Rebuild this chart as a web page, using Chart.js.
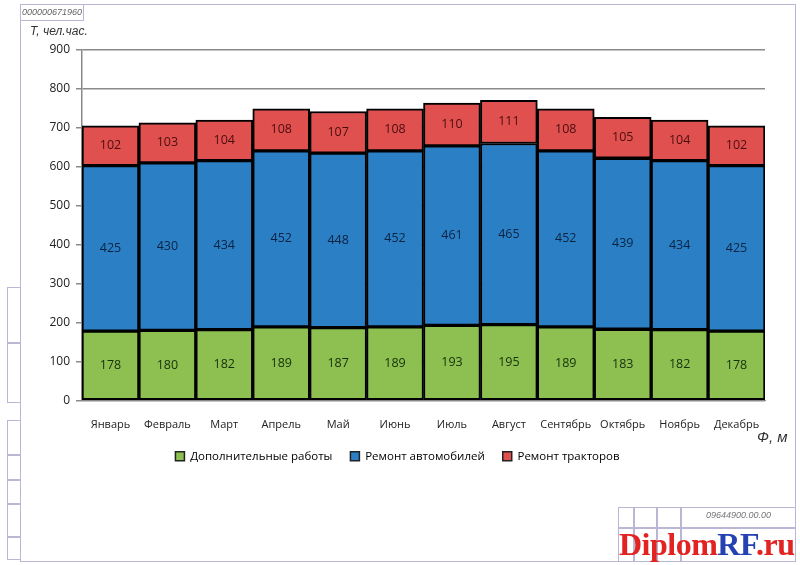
<!DOCTYPE html>
<html>
<head>
<meta charset="utf-8">
<script src="https://cdn.jsdelivr.net/npm/chart.js@4"></script>
<style>
  html, body { margin: 0; padding: 0; background: #fff; }
  #wrap { position: relative; width: 800px; height: 565px; overflow: hidden; }
  #chart { position: absolute; left: 0; top: 0; }
  .deco { position: absolute; pointer-events: none; font-family: "DejaVu Sans", sans-serif; }
  .frame { border: 1px solid #b9b6d6; }
  .lbl { font-style: italic; color: #333; font-family: "Liberation Sans", sans-serif; }
</style>
</head>
<body>
<div id="wrap">
  <canvas id="chart" width="800" height="565"></canvas>

  <!-- drawing frame -->
  <div class="deco frame" style="left:20px; top:4px; width:774px; height:556px;"></div>
  <div class="deco frame lbl" style="left:20px; top:4px; width:62px; height:15px; font-size:9px; line-height:15px; text-align:center; color:#666;">000000671960</div>
  <div class="deco lbl" style="left:30px; top:24px; font-size:12px;">Т, чел.час.</div>
  <div class="deco lbl" style="left:757px; top:428px; font-size:15px;">Ф, м</div>

  <!-- side stamps -->
  <div class="deco frame" style="left:7px; top:287px; width:12px; height:114px;"></div>
  <div class="deco frame" style="left:7px; top:342px; width:12px; height:0;"></div>
  <div class="deco frame" style="left:7px; top:420px; width:12px; height:138px;"></div>
  <div class="deco frame" style="left:7px; top:454px; width:12px; height:0;"></div>
  <div class="deco frame" style="left:7px; top:479px; width:12px; height:0;"></div>
  <div class="deco frame" style="left:7px; top:503px; width:12px; height:0;"></div>
  <div class="deco frame" style="left:7px; top:536px; width:12px; height:0;"></div>

  <!-- title block -->
  <div class="deco frame" style="left:618px; top:507px; width:176px; height:53px;"></div>
  <div class="deco frame" style="left:680px; top:507px; width:0; height:53px;"></div>
  <div class="deco frame" style="left:618px; top:527px; width:176px; height:0;"></div>
  <div class="deco frame" style="left:633px; top:507px; width:0; height:53px;"></div>
  <div class="deco frame" style="left:656px; top:507px; width:0; height:53px;"></div>
  <div class="deco lbl" style="left:706px; top:510px; font-size:9px; color:#777;">09644900.00.00</div>

  <!-- watermark -->
  <div class="deco" style="left:619px; top:526px; font-family:'Liberation Serif',serif; font-weight:bold; font-size:32px; line-height:36px; letter-spacing:-0.5px;"><span style="color:#e32222;">Diplom</span><span style="color:#2541b2;">RF</span><span style="color:#e32222;">.ru</span></div>
</div>

<script>
const months = ['Январь', 'Февраль', 'Март', 'Апрель', 'Май', 'Июнь', 'Июль', 'Август', 'Сентябрь', 'Октябрь', 'Ноябрь', 'Декабрь']
const extraWork = [178, 180, 182, 189, 187, 189, 193, 195, 189, 183, 182, 178]
const carRepair = [425, 430, 434, 452, 448, 452, 461, 465, 452, 439, 434, 425]
const tractorRepair = [102, 103, 104, 108, 107, 108, 110, 111, 108, 105, 104, 102]
const yTicks = [0, 100, 200, 300, 400, 500, 600, 700, 800, 900]

const labelColors = ['#16300a', '#0b2340', '#4a0d0d']

// value labels in the middle of each segment
const segmentLabels = {
  id: 'segmentLabels',
  afterDatasetsDraw(chart) {
    const ctx = chart.ctx
    ctx.save()
    ctx.font = '12.5px "Open Sans", sans-serif'
    ctx.textAlign = 'center'
    ctx.textBaseline = 'middle'
    chart.data.datasets.forEach((ds, i) => {
      const meta = chart.getDatasetMeta(i)
      ctx.fillStyle = labelColors[i]
      meta.data.forEach((bar, j) => {
        const mid = (bar.y + bar.base) / 2
        ctx.fillText(ds.data[j], bar.x, mid)
      })
    })
    ctx.restore()
  }
}

const ctx = document.getElementById('chart').getContext('2d')

new Chart(ctx, {
  type: 'bar',
  data: {
    labels: months,
    datasets: [{
      label: 'Дополнительные работы',
      data: extraWork,
      backgroundColor: '#8dc051',
      borderColor: '#000',
      borderWidth: 2,
      borderSkipped: false
    }, {
      label: 'Ремонт автомобилей',
      data: carRepair,
      backgroundColor: '#2a7fc5',
      borderColor: '#000',
      borderWidth: 2,
      borderSkipped: false
    }, {
      label: 'Ремонт тракторов',
      data: tractorRepair,
      backgroundColor: '#e0504f',
      borderColor: '#000',
      borderWidth: 2,
      borderSkipped: false
    }]
  },
  options: {
    responsive: false,
    animation: false,
    layout: {
      padding: { top: 50, left: 30, right: 35, bottom: 93 }
    },
    datasets: {
      bar: { categoryPercentage: 1, barPercentage: 1 }
    },
    scales: {
      x: {
        stacked: true,
        grid: { display: false, drawTicks: true },
        border: { color: '#888', width: 1 },
        ticks: {
          color: '#222',
          font: { family: '"Open Sans", sans-serif', size: 11 },
          padding: 10,
          maxRotation: 0
        },
        afterFit(scale) { scale.height = 32 }
      },
      y: {
        stacked: true,
        min: 0,
        max: 900,
        afterBuildTicks(scale) { scale.ticks = yTicks.map(v => ({ value: v })) },
        grid: { color: '#8a8a8a', lineWidth: 1.5, tickLength: 6 },
        border: { color: '#8a8a8a', width: 1.5 },
        ticks: {
          color: '#222',
          font: { family: '"Open Sans", sans-serif', size: 12 },
          padding: 6
        },
        afterFit(scale) { scale.width = 52 }
      }
    },
    plugins: {
      legend: {
        position: 'bottom',
        labels: {
          color: '#222',
          font: { family: '"Open Sans", sans-serif', size: 11.5 },
          boxWidth: 9,
          boxHeight: 9,
          padding: 18,
          generateLabels(chart) {
            return chart.data.datasets.map((ds, i) => ({
              text: ds.label,
              fillStyle: ds.backgroundColor,
              strokeStyle: '#222',
              lineWidth: 1.5,
              datasetIndex: i
            }))
          }
        }
      },
      tooltip: { enabled: false }
    }
  },
  plugins: [segmentLabels]
})
</script>
</body>
</html>
